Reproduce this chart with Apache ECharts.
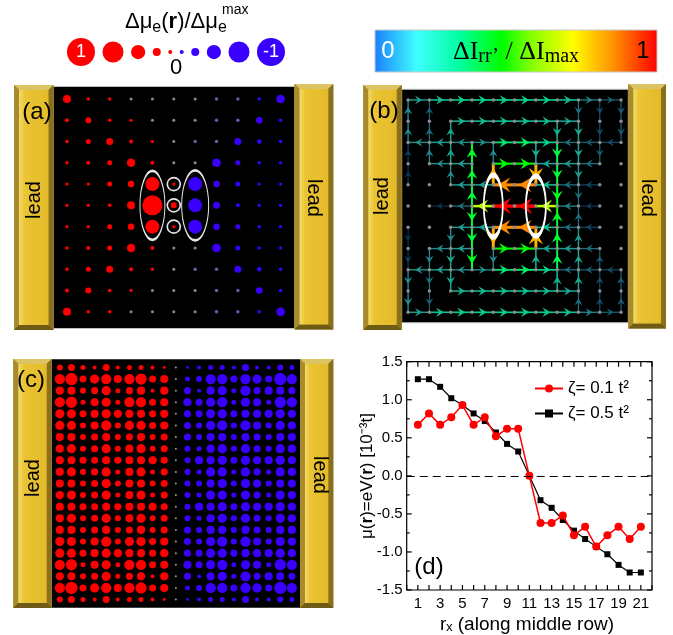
<!DOCTYPE html>
<html><head><meta charset="utf-8">
<script src="https://cdn.jsdelivr.net/npm/echarts@6/dist/echarts.min.js"></script>
<style>html,body{margin:0;padding:0;background:#fff}#wrap{position:relative;width:673px;height:635px}#chart{position:absolute;left:0;top:0;width:673px;height:635px}#chartD{position:absolute;left:340px;top:330px;width:333px;height:305px}</style>
</head><body><div id="wrap"><div id="chart"></div><div id="chartD"></div></div>
<script>
// ---------------- Panel (d) data ----------------
const rxValues = [1,2,3,4,5,6,7,8,9,10,11,12,13,14,15,16,17,18,19,20,21];
const muZeta01 = [0.67,0.82,0.67,0.77,0.93,0.67,0.77,0.52,0.62,0.62,0.00,-0.62,-0.62,-0.52,-0.78,-0.67,-0.93,-0.78,-0.67,-0.83,-0.67];
const muZeta05 = [1.27,1.27,1.17,1.02,0.93,0.82,0.72,0.57,0.42,0.32,0.00,-0.32,-0.42,-0.58,-0.72,-0.83,-0.93,-1.03,-1.17,-1.27,-1.27];
const xTickLabels = [1,3,5,7,9,11,13,15,17,19,21];
const yTickLabels = [-1.5,-1.0,-0.5,0.0,0.5,1.0,1.5];
const yMinorTicks = [-1.25,-0.75,-0.25,0.25,0.75,1.25];
const seriesNames = ['ζ= 0.1 t²','ζ= 0.5 t²'];

// ---------------- Top-left legend (Δμ/Δμmax) ----------------
const legendValues = [1,0.72,0.45,0.2,0.04,-0.04,-0.2,-0.45,-0.72,-1];

// ---------------- Panel (a): Δμ_e(r)/Δμ_e^max on 11x11 grid (rows top→bottom) ----------------
const aRows = [
 [0.20,0.02,0.02,0,0,0,0,-0.005,-0.005,-0.02,-0.22],
 [0.04,0.12,0.02,0.01,0,0,0,-0.005,-0.005,-0.14,-0.02],
 [0.02,0.08,0.16,0.04,0.01,0,-0.005,-0.005,-0.16,-0.06,-0.02],
 [0.02,0.04,0.08,0.22,0.04,0,0,-0.22,-0.08,-0.02,-0.01],
 [0.01,0.01,0.08,0.14,0.44,0.01,-0.44,-0.14,-0.08,-0.01,-0.01],
 [0.01,0.01,0.02,0.20,0.68,0.12,-0.44,-0.16,-0.04,-0.01,-0.01],
 [0.01,0.01,0.08,0.14,0.44,0.01,-0.44,-0.14,-0.08,-0.01,-0.01],
 [0.02,0.04,0.08,0.22,0.04,0,0,-0.22,-0.08,-0.02,-0.01],
 [0.02,0.08,0.16,0.04,0.01,0,-0.005,-0.005,-0.16,-0.06,-0.02],
 [0.04,0.12,0.02,0.01,0,0,0,-0.005,-0.005,-0.14,-0.02],
 [0.20,0.02,0.02,0,0,0,0,-0.005,-0.005,-0.02,-0.22]
];
const aEllipseCells = [[4,5],[6,5]];
const aCircleCells = [[5,4],[5,5],[5,6]];

// ---------------- Panel (b): bond currents [fromCol,fromRow,toCol,toRow,ΔI/ΔImax] ----------------
const bEdgesTop = [
 [0,0,1,0,.18],[1,0,2,0,.25],[2,0,3,0,.27],[3,0,4,0,.28],[4,0,5,0,.28],[5,0,6,0,.28],[6,0,7,0,.27],[7,0,8,0,.25],[8,0,9,0,.14],[9,0,10,0,.10],
 [0,1,0,0,.16],[0,2,0,1,.15],[0,3,0,2,.06],[0,4,0,3,.04],
 [1,1,1,0,.10],[1,2,1,1,.12],[1,3,1,2,.14],
 [2,2,2,1,.20],[2,3,2,2,.20],[2,4,2,3,.15],
 [10,0,10,1,.10],[10,1,10,2,.10],
 [9,0,9,1,.08],[9,1,9,2,.08],[9,2,9,3,.10],
 [8,0,8,1,.12],[8,1,8,2,.20],[8,2,8,3,.20],[8,3,8,4,.18],[8,4,8,5,.12],
 [2,1,3,1,.22],[3,1,4,1,.24],[4,1,5,1,.25],[5,1,6,1,.25],[6,1,7,1,.24],[7,1,8,1,.20],
 [3,2,2,2,.15],[2,2,1,2,.18],[1,2,0,2,.16],[3,2,4,2,.15],[4,2,5,2,.33],[5,2,6,2,.35],[6,2,7,2,.28],[10,2,9,2,.08],[9,2,8,2,.10],[8,2,7,2,.12],
 [7,1,7,2,.22],[7,2,7,3,.38],[7,3,7,4,.40],[7,4,7,5,.42],
 [6,2,6,3,.22],[6,3,6,4,.80],
 [4,4,4,3,.80],[4,3,4,2,.15],
 [3,5,3,4,.40],[3,4,3,3,.40],[3,3,3,2,.42],
 [4,3,5,3,.45],[5,3,6,3,.45],[7,3,6,3,.20],[8,3,7,3,.18],[9,3,8,3,.12],[3,3,2,3,.18],[2,3,1,3,.15],
 [6,4,5,4,.85],[5,4,4,4,.85],[7,4,6,4,.25],[8,4,7,4,.12],[9,4,8,4,.07],[4,4,3,4,.20],[3,4,2,4,.18]
];
const bEdgesMiddle = [
 [6,5,5,5,1.0],[5,5,4,5,1.0],[7,5,6,5,.62],[4,5,3,5,.62],[3,5,2,5,.12],[2,5,1,5,.04],[8,5,7,5,.14],[9,5,8,5,.05]
];
const bEdgesBottom = [
 [0,10,1,10,.18],[1,10,2,10,.25],[2,10,3,10,.27],[3,10,4,10,.28],[4,10,5,10,.28],[5,10,6,10,.28],[6,10,7,10,.27],[7,10,8,10,.25],[8,10,9,10,.14],[9,10,10,10,.10],
 [0,9,0,10,.16],[0,8,0,9,.15],[0,7,0,8,.06],[0,6,0,7,.04],
 [1,9,1,10,.10],[1,8,1,9,.12],[1,7,1,8,.14],
 [2,8,2,9,.20],[2,7,2,8,.20],[2,6,2,7,.15],
 [10,10,10,9,.10],[10,9,10,8,.10],
 [9,10,9,9,.08],[9,9,9,8,.08],[9,8,9,7,.10],
 [8,10,8,9,.12],[8,9,8,8,.20],[8,8,8,7,.20],[8,7,8,6,.18],[8,6,8,5,.12],
 [2,9,3,9,.22],[3,9,4,9,.24],[4,9,5,9,.25],[5,9,6,9,.25],[6,9,7,9,.24],[7,9,8,9,.20],
 [3,8,2,8,.15],[2,8,1,8,.18],[1,8,0,8,.16],[3,8,4,8,.15],[4,8,5,8,.33],[5,8,6,8,.35],[6,8,7,8,.28],[10,8,9,8,.08],[9,8,8,8,.10],[8,8,7,8,.12],
 [7,9,7,8,.22],[7,8,7,7,.38],[7,7,7,6,.40],[7,6,7,5,.42],
 [6,8,6,7,.22],[6,7,6,6,.80],
 [4,6,4,7,.80],[4,7,4,8,.15],
 [3,5,3,6,.40],[3,6,3,7,.40],[3,7,3,8,.42],
 [4,7,5,7,.45],[5,7,6,7,.45],[7,7,6,7,.20],[8,7,7,7,.18],[9,7,8,7,.12],[3,7,2,7,.18],[2,7,1,7,.15],
 [6,6,5,6,.85],[5,6,4,6,.85],[7,6,6,6,.25],[8,6,7,6,.12],[9,6,8,6,.07],[4,6,3,6,.20],[3,6,2,6,.18]
];
const bEllipseCells = [[4,5],[6,5]];

// ---------------- Panel (c): Δμ in units of 0.1 Δμmax on 21x21 grid ----------------
const cRows = [
 [5,6,4,3,6,3,4,4,3,2,0,-2,-3,-4,-4,-3,-6,-3,-3,-5,-4],
 [9,11,6,8,9,7,9,10,6,7,0,-4,-5,-9,-9,-6,-9,-8,-6,-11,-9],
 [7,7,5,6,8,4,6,7,3,7,0,-6,-3,-7,-8,-4,-9,-6,-7,-7,-6],
 [9,10,4,7,8,4,9,9,6,7,0,-7,-6,-8,-9,-4,-8,-7,-4,-10,-9],
 [8,8,6,7,8,7,7,7,6,7,0,-6,-6,-8,-8,-6,-7,-7,-7,-8,-7],
 [8,8,5,7,9,5,8,8,6,7,0,-6,-5,-8,-9,-5,-9,-7,-5,-8,-7],
 [7,7,5,6,7,5,6,7,5,6,0,-6,-5,-7,-7,-5,-7,-6,-5,-7,-7],
 [7,8,5,6,8,5,7,8,5,6,0,-5,-4,-7,-8,-5,-8,-6,-5,-8,-7],
 [7,7,6,6,7,6,7,7,7,6,0,-5,-7,-7,-8,-6,-8,-7,-7,-8,-7],
 [7,8,5,6,8,4,7,8,4,6,0,-5,-4,-8,-8,-4,-8,-6,-4,-8,-7],
 [7,7,5,6,8,5,7,7,5,6,0,-5,-5,-7,-8,-5,-8,-7,-5,-7,-7],
 [7,8,5,6,8,4,7,8,4,6,0,-5,-4,-8,-8,-4,-8,-6,-4,-8,-7],
 [7,7,6,6,7,6,7,7,7,6,0,-5,-7,-7,-8,-6,-8,-7,-7,-8,-7],
 [7,8,5,6,8,5,7,8,5,6,0,-5,-4,-7,-8,-5,-8,-6,-5,-8,-7],
 [7,7,5,6,7,5,6,7,5,6,0,-6,-5,-7,-7,-5,-7,-6,-5,-7,-7],
 [8,8,5,7,9,5,8,8,6,7,0,-6,-5,-8,-9,-5,-9,-7,-5,-8,-7],
 [8,8,6,7,8,7,7,7,6,7,0,-6,-6,-8,-8,-6,-7,-7,-7,-8,-7],
 [9,10,4,7,8,4,9,9,6,7,0,-7,-6,-8,-9,-4,-8,-7,-4,-10,-9],
 [7,7,5,6,8,4,6,7,3,7,0,-6,-3,-7,-8,-4,-9,-6,-7,-7,-6],
 [9,11,6,8,9,7,9,10,6,7,0,-4,-5,-9,-9,-6,-9,-8,-6,-11,-9],
 [5,6,4,3,6,3,4,4,3,2,0,-2,-3,-4,-4,-3,-6,-3,-3,-5,-4]
];

// ---------------- helpers ----------------
const FONT = '"Liberation Sans", Arial, sans-serif';
const RED = '#ff0000', BLUE = '#3a00ff';
const cbStops = [[0,[26,127,255]],[0.15,[64,255,255]],[0.3,[0,255,160]],[0.45,[0,255,0]],[0.55,[128,255,0]],[0.7,[255,255,0]],[0.85,[255,140,0]],[1,[255,0,0]]];
function cmap(t){
  t = Math.max(0, Math.min(1, t));
  for (let i = 1; i < cbStops.length; i++) {
    if (t <= cbStops[i][0]) {
      const a = cbStops[i-1], b = cbStops[i], f = (t - a[0]) / (b[0] - a[0]);
      return a[1].map((v, k) => v + (b[1][k] - v) * f);
    }
  }
  return cbStops[cbStops.length-1][1];
}
function edgeColor(m){
  const c = cmap(m), k = Math.min(1, 0.25 + 2 * m);
  return 'rgb(' + c.map(v => Math.round(v * k)).join(',') + ')';
}
function muColor(v){
  if (v === 0) return '#8a8a8a';
  if (Math.abs(v) < 0.01) return v > 0 ? '#a06060' : '#6a5aa8';
  return v > 0 ? RED : BLUE;
}

function lead(x, y, w, h, rot, tx, ty){
  const b = 5;
  return {type:'group', z:10, children:[
    {type:'rect', shape:{x:x, y:y, width:w, height:h}, style:{fill:'#9c8224'}},
    {type:'polygon', shape:{points:[[x,y],[x+w,y],[x+w-b,y+b],[x+b,y+b]]}, style:{fill:'#dcc462'}},
    {type:'polygon', shape:{points:[[x,y],[x+b,y+b],[x+b,y+h-b],[x,y+h]]}, style:{fill:'#a88c2c'}},
    {type:'polygon', shape:{points:[[x+w,y],[x+w,y+h],[x+w-b,y+h-b],[x+w-b,y+b]]}, style:{fill:'#8a701c'}},
    {type:'polygon', shape:{points:[[x,y+h],[x+b,y+h-b],[x+w-b,y+h-b],[x+w,y+h]]}, style:{fill:'#6f5a16'}},
    {type:'rect', shape:{x:x+b, y:y+b, width:w-2*b, height:h-2*b},
      style:{fill:new echarts.graphic.LinearGradient(0,0,1,0,[{offset:0,color:'#f5dc6a'},{offset:0.2,color:'#eac434'},{offset:1,color:'#e3ba2a'}])}},
    {type:'text', x:tx, y:ty, rotation:rot, style:{text:'lead', font:'20px ' + FONT, fill:'#000', align:'center', verticalAlign:'middle'}}
  ]};
}

// ---------------- build series data ----------------
const legendSizes = legendValues.map(v => 3 + 25 * Math.abs(v));
const legendGap = 7.5;
const legendTotal = legendSizes.reduce((s, d) => s + d, 0) + legendGap * (legendSizes.length - 1);
let cursor = 176 - legendTotal / 2;
const legendData = legendValues.map((v, i) => {
  const x = cursor + legendSizes[i] / 2;
  cursor += legendSizes[i] + legendGap;
  const item = {value:[x, 0], symbolSize:legendSizes[i], itemStyle:{color: v > 0 ? RED : BLUE, opacity:1}};
  if (Math.abs(v) === 1) item.label = {show:true, formatter:String(v), color:'#fff', fontSize:18, fontFamily:FONT, position:'inside'};
  return item;
});

const aData = [];
aRows.forEach((row, r) => row.forEach((v, c) => {
  aData.push({value:[c, r, v], symbolSize: 3 + 25 * Math.abs(v) + (v !== 0 && Math.abs(v) < 0.01 ? 0.3 : 0), itemStyle:{color: muColor(v), opacity:1}});
}));

const bEdges = bEdgesTop.concat(bEdgesMiddle, bEdgesBottom).slice().sort((p, q) => p[4] - q[4]);
const bNodes = [];
for (let r = 0; r < aRows.length; r++) for (let c = 0; c < aRows[0].length; c++) bNodes.push([c, r]);

const cData = [];
cRows.forEach((row, r) => row.forEach((n, c) => {
  cData.push({value:[c, r, n / 10], symbolSize: n === 0 ? 2 : Math.abs(n) * 1.05 + 0.8, itemStyle:{color: n === 0 ? '#9a9a9a' : (n > 0 ? RED : BLUE), opacity:1}});
}));

function gridAxisX(idx, min, max){ return {type:'value', gridIndex:idx, min:min, max:max, show:false}; }
function gridAxisY(idx, min, max){ return {type:'value', gridIndex:idx, min:min, max:max, inverse:true, show:false}; }

// ---------------- main chart: panels (a), (b), (c), legends ----------------
const option = {
  animation:false,
  backgroundColor:'#fff',
  grid:[
    {left:53.5, top:86.7, width:241, height:241.6, show:true, backgroundColor:'#000', borderWidth:0},
    {left:401.7, top:89.3, width:226.6, height:233.4, show:true, backgroundColor:'#000', borderColor:'#bbb', borderWidth:1},
    {left:51.7, top:359.3, width:248.3, height:248.4, show:true, backgroundColor:'#000', borderWidth:0},
    {left:0, top:40, width:673, height:24}
  ],
  xAxis:[gridAxisX(0, -0.63, 10.65), gridAxisX(1, -0.3, 10.34), gridAxisX(2, -0.7, 20.7), gridAxisX(3, 0, 673)],
  yAxis:[gridAxisY(0, -0.58, 10.78), gridAxisY(1, -0.5, 10.49), gridAxisY(2, -0.7, 20.7), {type:'value', gridIndex:3, min:-1, max:1, show:false}],
  series:[
    {type:'scatter', xAxisIndex:3, yAxisIndex:3, symbol:'circle', data:legendData, silent:true, z:5},
    {type:'scatter', xAxisIndex:0, yAxisIndex:0, symbol:'circle', data:aData, silent:true, z:3},
    {type:'scatter', xAxisIndex:0, yAxisIndex:0, symbol:'circle', silent:true, z:4,
     data: aEllipseCells.map((p, i) => ({value:p, symbolSize: i === 0 ? [25, 69] : [27, 70]})).concat(
           aCircleCells.map(p => ({value:p, symbolSize:13}))),
     itemStyle:{color:'rgba(0,0,0,0)', borderColor:'#e6e6e6', borderWidth:1.6, opacity:1}},
    {type:'custom', xAxisIndex:1, yAxisIndex:1, data:bEdges, silent:true, z:2, clip:false,
     encode:{x:[0,2], y:[1,3]},
     renderItem:function(params, api){
       const p1 = api.coord([api.value(0), api.value(1)]);
       const p2 = api.coord([api.value(2), api.value(3)]);
       const m = api.value(4);
       const col = edgeColor(m);
       const lw = 1 + 2.4 * m;
       const L = 6 + 8 * m, W = 7 + 9 * m;
       const mx = (p1[0] + p2[0]) / 2, my = (p1[1] + p2[1]) / 2;
       const ang = Math.atan2(p2[1] - p1[1], p2[0] - p1[0]);
       const ca = Math.cos(ang), sa = Math.sin(ang);
       const pts = [[L/2,0],[-L/2,-W/2],[-L/8,0],[-L/2,W/2]].map(q => [mx + q[0]*ca - q[1]*sa, my + q[0]*sa + q[1]*ca]);
       return {type:'group', children:[
         {type:'line', shape:{x1:p1[0], y1:p1[1], x2:p2[0], y2:p2[1]}, style:{stroke:col, lineWidth:lw}},
         {type:'polygon', shape:{points:pts}, style:{fill:col}}
       ]};
     }},
    {type:'scatter', xAxisIndex:1, yAxisIndex:1, symbol:'circle', symbolSize:3.5, data:bNodes, silent:true, z:3,
     itemStyle:{color:'#8c8c8c', opacity:1}},
    {type:'scatter', xAxisIndex:1, yAxisIndex:1, symbol:'circle', silent:true, z:4,
     data: bEllipseCells.map((p, i) => ({value:p, symbolSize: i === 0 ? [19, 62] : [20, 60]})),
     itemStyle:{color:'rgba(0,0,0,0)', borderColor:'#ffffff', borderWidth:3, opacity:1}},
    {type:'scatter', xAxisIndex:2, yAxisIndex:2, symbol:'circle', data:cData, silent:true, z:3}
  ],
  graphic:[
    lead(14, 85, 39.5, 245, Math.PI/2, 34, 200),
    lead(294.5, 84, 38.8, 245.5, -Math.PI/2, 314, 198),
    lead(363.3, 85, 38.4, 245, Math.PI/2, 382, 196),
    lead(628.3, 84, 37.7, 244.5, -Math.PI/2, 648, 198),
    lead(13.3, 359, 38.4, 249, Math.PI/2, 33, 478),
    lead(300, 359, 33.3, 249, -Math.PI/2, 320, 475),
    {type:'text', z:100, x:37, y:112, style:{text:'(a)', font:'24px ' + FONT, fill:'#000', align:'center', verticalAlign:'middle'}},
    {type:'text', z:100, x:384, y:111, style:{text:'(b)', font:'24px ' + FONT, fill:'#000', align:'center', verticalAlign:'middle'}},
    {type:'text', z:100, x:31, y:380, style:{text:'(c)', font:'24px ' + FONT, fill:'#000', align:'center', verticalAlign:'middle'}},
    {type:'text', z:100, x:125, y:8, style:{
      text:'{a|Δμ}{s|e}{a|(}{b|r}{a|)/Δμ}{s|e}',
      rich:{a:{fontSize:22, fontFamily:FONT, fill:'#000', lineHeight:28, verticalAlign:'middle'},
            b:{fontSize:22, fontFamily:FONT, fontWeight:'bold', fill:'#000', lineHeight:28, verticalAlign:'middle'},
            s:{fontSize:16, fontFamily:FONT, fill:'#000', lineHeight:17, verticalAlign:'bottom'}}}},
    {type:'text', z:100, x:222, y:3, style:{text:'max', font:'14px ' + FONT, fill:'#000'}},
    {type:'text', z:100, x:176, y:68, style:{text:'0', font:'22px ' + FONT, fill:'#000', align:'center', verticalAlign:'middle'}},
    {type:'rect', z:10, shape:{x:375, y:30, width:282, height:42},
     style:{fill:new echarts.graphic.LinearGradient(0,0,1,0, cbStops.map(s => ({offset:s[0], color:'rgb(' + s[1].join(',') + ')'}))), stroke:'#c8c8c8', lineWidth:1}},
    {type:'text', z:100, x:388, y:51, style:{text:'0', font:'24px ' + FONT, fill:'#fff', align:'center', verticalAlign:'middle'}},
    {type:'text', z:100, x:643, y:51, style:{text:'1', font:'24px ' + FONT, fill:'#000', align:'center', verticalAlign:'middle'}},
    {type:'text', z:100, x:516, y:52, style:{
      text:'{a|ΔI}{s|rr’}{a| / ΔI}{s|max}', align:'center', verticalAlign:'middle',
      rich:{a:{fontSize:26, fontFamily:'"Liberation Serif", "Times New Roman", serif', fill:'#000', lineHeight:30, verticalAlign:'middle'},
            s:{fontSize:20, fontFamily:'"Liberation Serif", "Times New Roman", serif', fill:'#000', lineHeight:22, verticalAlign:'bottom'}}}}
  ]
};

// ---------------- panel (d): frame, ticks and tick labels drawn from the axis scales ----------------
const frameSpec = [{t:'frame'}];
for (let v = 0; v <= 22; v++) frameSpec.push({t:'x', v:v, label: xTickLabels.indexOf(v) >= 0 ? String(v) : ''});
yTickLabels.forEach(v => frameSpec.push({t:'y', v:v, len:5, label:v.toFixed(1)}));
yMinorTicks.forEach(v => frameSpec.push({t:'y', v:v, len:3, label:''}));

const optionD = {
  animation:false,
  grid:[{left:66.7, top:31.7, width:245.3, height:228.3}],
  xAxis:[{type:'value', min:0, max:22, show:false}],
  yAxis:[{type:'value', min:-1.5, max:1.5, show:false}],
  legend:{
    data:seriesNames, orient:'vertical', left:189, top:45, itemWidth:28, itemHeight:10, itemGap:8,
    textStyle:{color:'#000', fontSize:17, fontFamily:FONT}
  },
  series:[
    {type:'custom', silent:true, z:6, clip:false, data: frameSpec.map((s, i) => [i, 0]),
     encode:{x:-1, y:-1},
     renderItem:function(params, api){
       const s = frameSpec[params.dataIndex];
       const cs = params.coordSys;
       const x0 = cs.x, y0 = cs.y, w = cs.width, h = cs.height;
       const st = {stroke:'#000', lineWidth:1.2};
       if (s.t === 'frame') {
         return {type:'rect', shape:{x:x0, y:y0, width:w, height:h}, style:{fill:'none', stroke:'#000', lineWidth:1.2}};
       }
       if (s.t === 'x') {
         const px = api.coord([s.v, 0])[0];
         const kids = [
           {type:'line', shape:{x1:px, y1:y0+h, x2:px, y2:y0+h-5}, style:st},
           {type:'line', shape:{x1:px, y1:y0, x2:px, y2:y0+5}, style:st}
         ];
         if (s.label) kids.push({type:'text', x:px, y:y0+h+6, style:{text:s.label, fill:'#000', font:'15px ' + FONT, align:'center', verticalAlign:'top'}});
         return {type:'group', children:kids};
       }
       const py = api.coord([0, s.v])[1];
       const kids = [
         {type:'line', shape:{x1:x0, y1:py, x2:x0+s.len, y2:py}, style:st},
         {type:'line', shape:{x1:x0+w, y1:py, x2:x0+w-s.len, y2:py}, style:st}
       ];
       if (s.label) kids.push({type:'text', x:x0-4, y:py, style:{text:s.label, fill:'#000', font:'15px ' + FONT, align:'right', verticalAlign:'middle'}});
       return {type:'group', children:kids};
     }},
    {type:'line', name:seriesNames[1], data: rxValues.map((x, i) => [x, muZeta05[i]]),
     symbol:'rect', symbolSize:6, lineStyle:{color:'#000', width:1.2}, itemStyle:{color:'#000'}, z:3,
     markLine:{silent:true, symbol:'none', label:{show:false}, lineStyle:{color:'#000', type:[8,5], width:1.2}, data:[{yAxis:0}]}},
    {type:'line', name:seriesNames[0], data: rxValues.map((x, i) => [x, muZeta01[i]]),
     symbol:'circle', symbolSize:8, lineStyle:{color:RED, width:1.5}, itemStyle:{color:RED}, z:4}
  ],
  graphic:[
    {type:'text', x:89, y:237, style:{text:'(d)', font:'24px ' + FONT, fill:'#000', align:'center', verticalAlign:'middle'}},
    {type:'text', x:27, y:146, rotation:Math.PI/2, style:{
      text:'{n|μ(}{b|r}{n|)=eV(}{b|r}{n|) [10⁻³t]}', align:'center', verticalAlign:'middle',
      rich:{n:{fontSize:17, fontFamily:FONT, fill:'#000'}, b:{fontSize:17, fontFamily:FONT, fontWeight:'bold', fill:'#000'}}}},
    {type:'text', x:187, y:295, style:{text:'rₓ (along middle row)', font:'19px ' + FONT, fill:'#000', align:'center', verticalAlign:'middle'}}
  ]
};

const chart = echarts.init(document.getElementById('chart'), null, {renderer:'canvas'});
chart.setOption(option);
const chartD = echarts.init(document.getElementById('chartD'), null, {renderer:'canvas'});
chartD.setOption(optionD);
</script>
</body></html>
